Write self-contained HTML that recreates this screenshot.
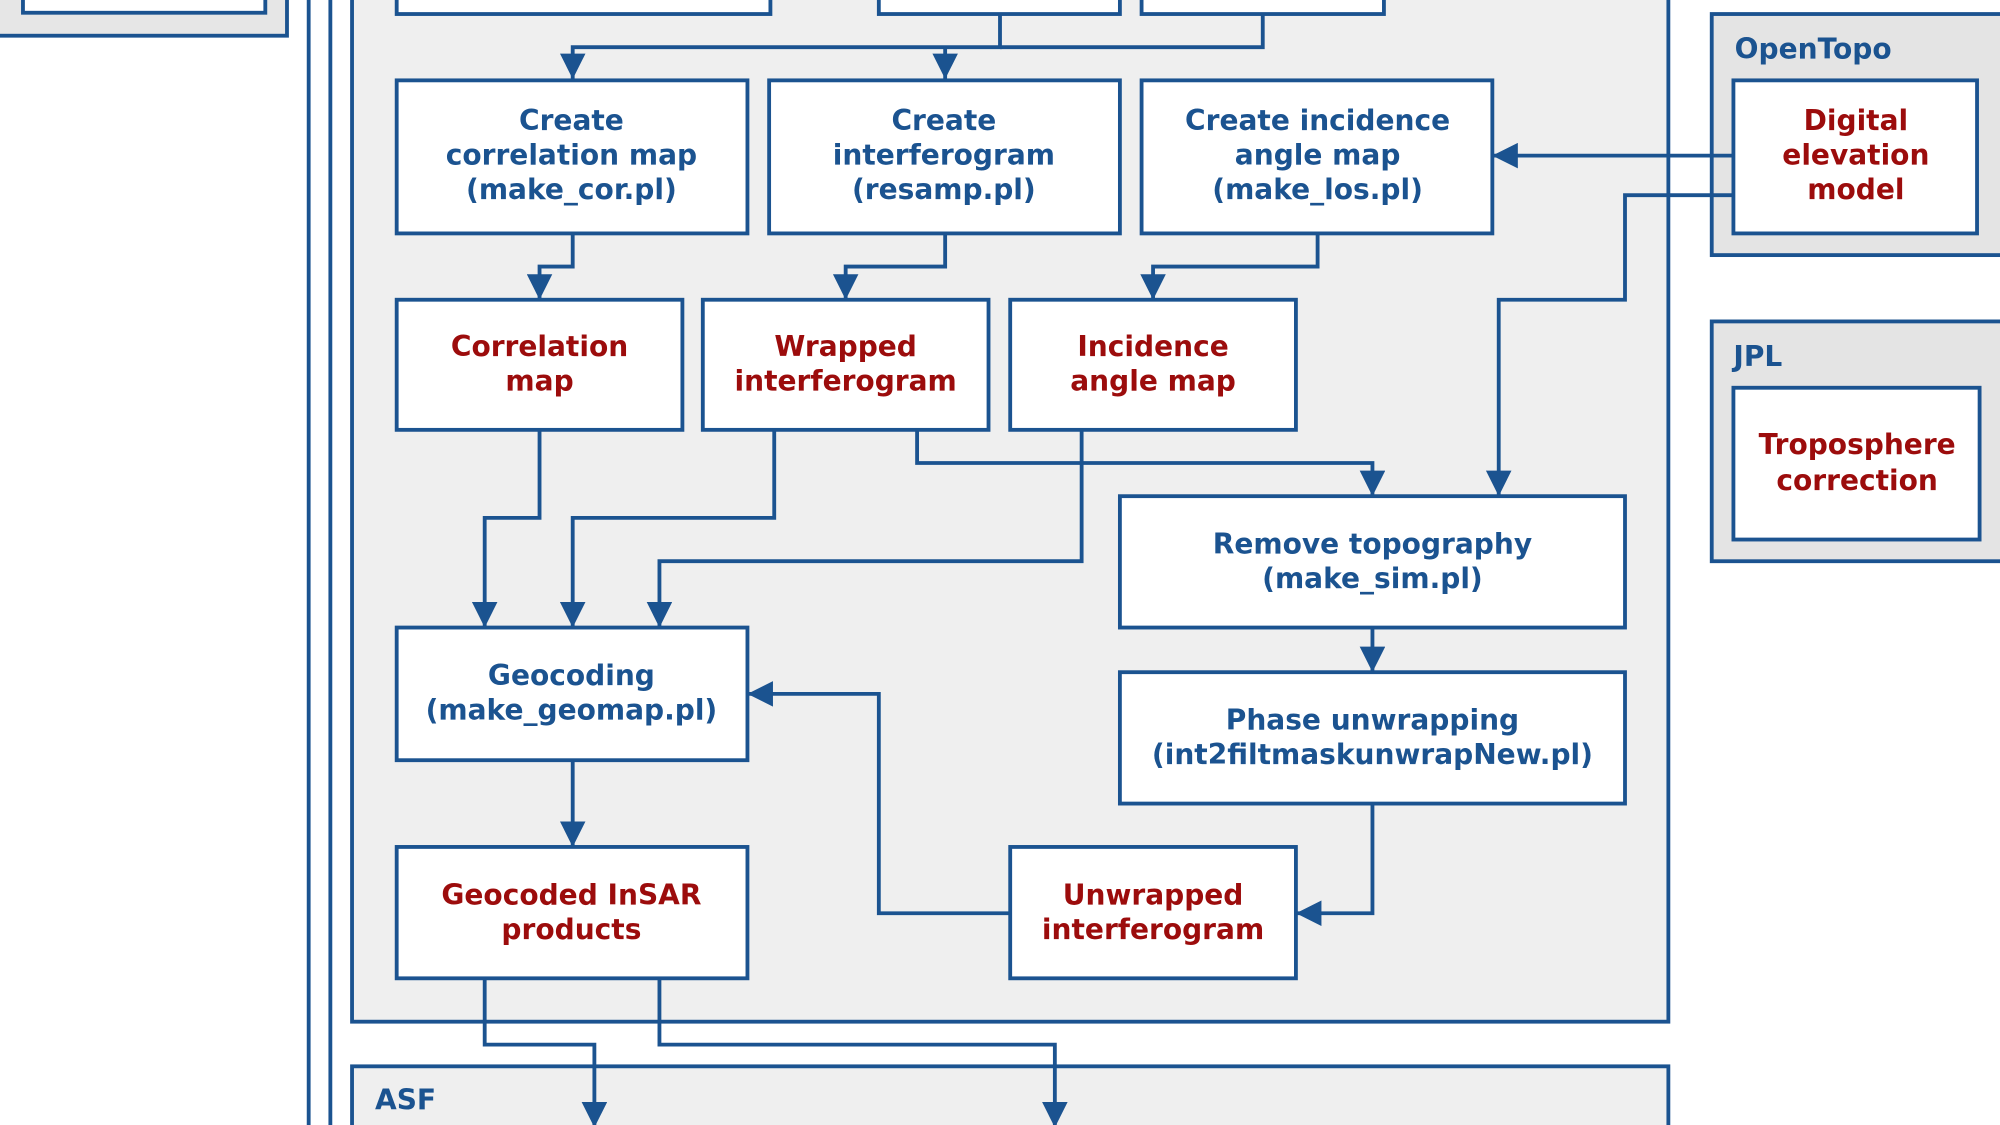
<!DOCTYPE html>
<html><head><meta charset="utf-8"><style>
html,body{margin:0;padding:0;background:#fff;}
svg{display:block;}
text{font-family:"DejaVu Sans","Liberation Sans",sans-serif;font-weight:bold;font-size:22px;text-anchor:middle;}
.b{fill:#1b5390;}
.r{fill:#9c0c0c;}
.g{font-size:22px;text-anchor:start;fill:#1b5390;}
rect{stroke:#1b5390;stroke-width:3;}
.n{fill:#fff;}
path.l{fill:none;stroke:#1b5390;stroke-width:3;}
</style></head><body>
<svg width="2000" height="1125" viewBox="0 0 1568 882" preserveAspectRatio="none">
<defs>
<marker id="m" viewBox="0 0 12 12" refX="12" refY="6" markerWidth="20" markerHeight="20" orient="auto" markerUnits="userSpaceOnUse"><path d="M0,0 L12,6 L0,12z" fill="#1b5390"/></marker></defs>
<rect x="-5" y="-10" width="230" height="38" fill="#e6e6e6"/>
<rect x="18" y="-10" width="190" height="20" class="n"/>
<path class="l" d="M242,0V882M259,0V882"/>
<rect x="276" y="-10" width="1032" height="811" fill="#efefef"/>
<rect x="276" y="836" width="1032" height="60" fill="#efefef"/>
<text class="g" x="294" y="870">ASF</text>
<rect x="311" y="-10" width="293" height="21" class="n"/>
<rect x="689" y="-10" width="189" height="21" class="n"/>
<rect x="895" y="-10" width="190" height="21" class="n"/>
<rect x="1342" y="11" width="240" height="189" fill="#e4e4e4"/>
<text class="g" x="1360" y="46">OpenTopo</text>
<rect x="1359" y="63" width="191" height="120" class="n"/>
<text class="r" x="1455" y="102">Digital</text><text class="r" x="1455" y="129">elevation</text><text class="r" x="1455" y="156">model</text>
<rect x="1342" y="252" width="240" height="188" fill="#e4e4e4"/>
<text class="g" x="1359" y="287">JPL</text>
<rect x="1359" y="304" width="193" height="119" class="n"/>
<text class="r" x="1456" y="356">Troposphere</text><text class="r" x="1456" y="384">correction</text>
<path class="l" d="M784,11V37H449V62" marker-end="url(#m)"/>
<path class="l" d="M741,37V62" marker-end="url(#m)"/>
<path class="l" d="M990,11V37H784"/>
<path class="l" d="M449,183V209H423V235" marker-end="url(#m)"/>
<path class="l" d="M741,183V209H663V235" marker-end="url(#m)"/>
<path class="l" d="M1033,183V209H904V235" marker-end="url(#m)"/>
<path class="l" d="M1359,122H1170" marker-end="url(#m)"/>
<path class="l" d="M1359,153H1274V235H1175V389" marker-end="url(#m)"/>
<path class="l" d="M719,337V363H1076V389" marker-end="url(#m)"/>
<path class="l" d="M1076,492V527" marker-end="url(#m)"/>
<path class="l" d="M423,337V406H380V492" marker-end="url(#m)"/>
<path class="l" d="M607,337V406H449V492" marker-end="url(#m)"/>
<path class="l" d="M848,337V440H517V492" marker-end="url(#m)"/>
<path class="l" d="M449,596V664" marker-end="url(#m)"/>
<path class="l" d="M1076,630V716H1016" marker-end="url(#m)"/>
<path class="l" d="M792,716H689V544H586" marker-end="url(#m)"/>
<path class="l" d="M380,767V819H466V884" marker-end="url(#m)"/>
<path class="l" d="M517,767V819H827V884" marker-end="url(#m)"/>
<rect x="311" y="63" width="275" height="120" class="n"/>
<text class="b" x="448" y="102">Create</text><text class="b" x="448" y="129">correlation map</text><text class="b" x="448" y="156">(make_cor.pl)</text>
<rect x="603" y="63" width="275" height="120" class="n"/>
<text class="b" x="740" y="102">Create</text><text class="b" x="740" y="129">interferogram</text><text class="b" x="740" y="156">(resamp.pl)</text>
<rect x="895" y="63" width="275" height="120" class="n"/>
<text class="b" x="1033" y="102">Create incidence</text><text class="b" x="1033" y="129">angle map</text><text class="b" x="1033" y="156">(make_los.pl)</text>
<rect x="311" y="235" width="224" height="102" class="n"/>
<text class="r" x="423" y="279">Correlation</text><text class="r" x="423" y="306">map</text>
<rect x="551" y="235" width="224" height="102" class="n"/>
<text class="r" x="663" y="279">Wrapped</text><text class="r" x="663" y="306">interferogram</text>
<rect x="792" y="235" width="224" height="102" class="n"/>
<text class="r" x="904" y="279">Incidence</text><text class="r" x="904" y="306">angle map</text>
<rect x="878" y="389" width="396" height="103" class="n"/>
<text class="b" x="1076" y="434">Remove topography</text><text class="b" x="1076" y="461">(make_sim.pl)</text>
<rect x="878" y="527" width="396" height="103" class="n"/>
<text class="b" x="1076" y="572">Phase unwrapping</text><text class="b" x="1076" y="599">(int2filtmaskunwrapNew.pl)</text>
<rect x="311" y="492" width="275" height="104" class="n"/>
<text class="b" x="448" y="537">Geocoding</text><text class="b" x="448" y="564">(make_geomap.pl)</text>
<rect x="311" y="664" width="275" height="103" class="n"/>
<text class="r" x="448" y="709">Geocoded InSAR</text><text class="r" x="448" y="736">products</text>
<rect x="792" y="664" width="224" height="103" class="n"/>
<text class="r" x="904" y="709">Unwrapped</text><text class="r" x="904" y="736">interferogram</text>
</svg>
</body></html>
